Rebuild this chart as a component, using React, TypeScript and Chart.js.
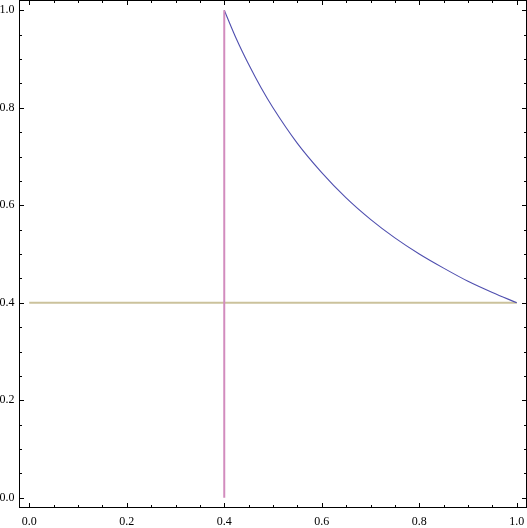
import React, { useEffect, useRef } from "react";
import { Chart, registerables } from "chart.js";

Chart.register(...registerables);

// Curve
const curveX = [0.4, 0.425, 0.45, 0.475, 0.5, 0.55, 0.6, 0.65, 0.7, 0.75, 0.8, 0.85, 0.9, 0.95, 1.0];
const curveY = [1.0, 0.941, 0.889, 0.842, 0.8, 0.727, 0.667, 0.615, 0.571, 0.533, 0.5, 0.471, 0.444, 0.421, 0.4];

// Vertical line
const verticalX = [0.4, 0.4];
const verticalY = [0.0, 1.0];

// Horizontal line
const horizontalX = [0.0, 1.0];
const horizontalY = [0.4, 0.4];

// Ticks
const xTickValues = [0.0, 0.2, 0.4, 0.6, 0.8, 1.0];
const xTickLabels = ["0.0", "0.2", "0.4", "0.6", "0.8", "1.0"];
const yTickValues = [0.0, 0.2, 0.4, 0.6, 0.8, 1.0];
const yTickLabels = ["0.0", "0.2", "0.4", "0.6", "0.8", "1.0"];
const minorTickValues = [0.05, 0.1, 0.15, 0.25, 0.3, 0.35, 0.45, 0.5, 0.55, 0.65, 0.7, 0.75, 0.85, 0.9, 0.95];

const axisMin = -0.02;
const axisMax = 1.02;

const toPoints = (xs: number[], ys: number[]) => xs.map((x, i) => ({ x, y: ys[i] }));

const framePlugin = {
  id: "mmaFrame",
  afterDatasetsDraw(chart: any) {
    const { ctx, chartArea: a, scales } = chart;
    const x = scales.x;
    const y = scales.y;
    ctx.save();
    ctx.strokeStyle = "#000";
    ctx.lineWidth = 1;
    ctx.strokeRect(a.left, a.top, a.right - a.left, a.bottom - a.top);
    ctx.beginPath();
    const xt = (v: number, len: number) => {
      const px = Math.round(x.getPixelForValue(v)) + 0.5;
      ctx.moveTo(px, a.bottom);
      ctx.lineTo(px, a.bottom - len);
      ctx.moveTo(px, a.top);
      ctx.lineTo(px, a.top + len);
    };
    const yt = (v: number, len: number) => {
      const py = Math.round(y.getPixelForValue(v)) + 0.5;
      ctx.moveTo(a.left, py);
      ctx.lineTo(a.left + len, py);
      ctx.moveTo(a.right, py);
      ctx.lineTo(a.right - len, py);
    };
    xTickValues.forEach((v) => xt(v, 4.5));
    minorTickValues.forEach((v) => xt(v, 2.5));
    yTickValues.forEach((v) => yt(v, 4.5));
    minorTickValues.forEach((v) => yt(v, 2.5));
    ctx.stroke();
    ctx.restore();
  },
};

const zeroPad = (s: any) => {
  s.paddingTop = 0;
  s.paddingBottom = 0;
  s.paddingLeft = 0;
  s.paddingRight = 0;
};

export default function App() {
  const ref = useRef<HTMLCanvasElement | null>(null);

  useEffect(() => {
    if (!ref.current) return;
    const font = { family: "'Liberation Serif', 'DejaVu Serif', serif", size: 12 };
    const chart = new Chart(ref.current, {
      type: "scatter",
      data: {
        datasets: [
          {
            label: "vertical",
            data: toPoints(verticalX, verticalY),
            showLine: true,
            borderColor: "#d28cbe",
            borderWidth: 2,
            pointRadius: 0,
            order: 1,
          },
          {
            label: "curve",
            data: toPoints(curveX, curveY),
            showLine: true,
            borderColor: "#4f4faf",
            borderWidth: 1.1,
            pointRadius: 0,
            cubicInterpolationMode: "monotone",
            order: 2,
          },
          {
            label: "horizontal",
            data: toPoints(horizontalX, horizontalY),
            showLine: true,
            borderColor: "#cbc29c",
            borderWidth: 2,
            pointRadius: 0,
            order: 3,
          },
        ],
      },
      options: {
        responsive: false,
        animation: false,
        events: [],
        layout: { autoPadding: false, padding: { top: 0.5, right: 0.5, left: 0, bottom: 0 } },
        plugins: { legend: { display: false }, tooltip: { enabled: false } },
        scales: {
          x: {
            type: "linear",
            min: axisMin,
            max: axisMax,
            grid: { display: false, drawTicks: false },
            border: { display: false },
            ticks: {
              font,
              color: "#000",
              padding: 7,
              maxRotation: 0,
              autoSkip: false,
              callback: (v: any) => {
                const i = xTickValues.findIndex((t) => Math.abs(t - v) < 1e-9);
                return i >= 0 ? xTickLabels[i] : "";
              },
            },
            afterBuildTicks: (s: any) => {
              s.ticks = xTickValues.map((value) => ({ value }));
            },
            afterFit: (s: any) => {
              s.height = 20.5;
              zeroPad(s);
            },
          },
          y: {
            type: "linear",
            min: axisMin,
            max: axisMax,
            grid: { display: false, drawTicks: false },
            border: { display: false },
            ticks: {
              font,
              color: "#000",
              padding: 5,
              autoSkip: false,
              callback: (v: any) => {
                const i = yTickValues.findIndex((t) => Math.abs(t - v) < 1e-9);
                return i >= 0 ? yTickLabels[i] : "";
              },
            },
            afterBuildTicks: (s: any) => {
              s.ticks = yTickValues.map((value) => ({ value }));
            },
            afterFit: (s: any) => {
              s.width = 19.5;
              zeroPad(s);
            },
          },
        },
      } as any,
      plugins: [framePlugin],
    });
    return () => chart.destroy();
  }, []);

  return (
    <div style={{ position: "fixed", left: 0, top: 0, width: 527, height: 528, background: "#fff" }}>
      <canvas ref={ref} width={527} height={528} style={{ display: "block", width: 527, height: 528 }} />
    </div>
  );
}
